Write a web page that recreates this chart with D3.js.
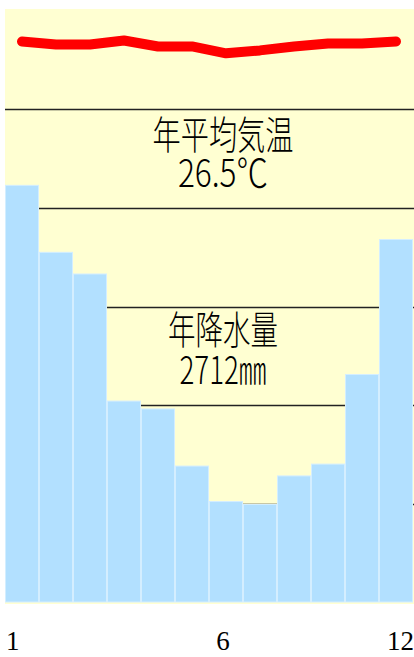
<!DOCTYPE html>
<html><head><meta charset="utf-8">
<script src="https://cdn.jsdelivr.net/npm/d3@7"></script>
<style>html,body{margin:0;padding:0;background:#fff;overflow:hidden;}svg{display:block;}</style>
</head><body>
<script>
const months = [1,2,3,4,5,6,7,8,9,10,11,12];
const precipitation = [423,355,333,204,196,138,102,99,128,140,231,368];
const temperature = [26.9,26.6,26.6,27.0,26.4,26.4,25.7,26.0,26.4,26.7,26.7,26.9];
const gridValues = [100,200,300,400,500];
const tickLabels = ["1","6","12"];
const titleLines = ["年平均気温","26.5℃","年降水量","2712㎜"];

const W = 414, H = 657;
const svg = d3.select("body").append("svg").attr("width", W).attr("height", H);

const x = d3.scaleBand().domain(months).range([5, 413]).padding(0);
const yP = d3.scaleLinear().domain([0, 600]).range([602, 11]);
const yT = d3.scaleLinear().domain([-30, 30]).range([602, 11]);

// background panel
svg.append("rect").attr("x", 5).attr("y", 9).attr("width", W - 5).attr("height", 595)
  .attr("fill", "#FFFFD2");

// grid lines
svg.append("g").selectAll("line").data(gridValues).join("line")
  .attr("x1", 5).attr("x2", W)
  .attr("y1", d => Math.round(yP(d)) + 0.5).attr("y2", d => Math.round(yP(d)) + 0.5)
  .attr("stroke", "#222").attr("stroke-width", 1.6);

// bars
svg.append("g").selectAll("rect").data(months).join("rect")
  .attr("x", d => x(d) + 0.5)
  .attr("y", (d, i) => yP(precipitation[i]))
  .attr("width", x.bandwidth() - 1)
  .attr("height", (d, i) => yP(0) - yP(precipitation[i]))
  .attr("fill", "#B2E0FF")
  .attr("stroke", "#D4EEFF").attr("stroke-width", 1);

// temperature line
const line = d3.line()
  .x((d, i) => x(months[i]) + x.bandwidth() / 2)
  .y(d => yT(d));
svg.append("path").datum(temperature)
  .attr("d", line)
  .attr("fill", "none").attr("stroke", "#FF0000")
  .attr("stroke-width", 10).attr("stroke-linecap", "round").attr("stroke-linejoin", "round");

// annotation text blocks (two lines each)
const cx = 223;
const blocks = [
  [{t: titleLines[0], y: 149, len: 141}, {t: titleLines[1], y: 187, len: 90}],
  [{t: titleLines[2], y: 344, len: 110}, {t: titleLines[3], y: 384, len: 87}]
];
svg.append("g").selectAll("text").data(blocks).join("text")
  .attr("font-family", "'Noto Sans CJK JP', sans-serif")
  .attr("font-size", 39).attr("font-weight", 300)
  .attr("fill", "#000")
  .selectAll("tspan").data(d => d).join("tspan")
  .attr("x", d => cx - d.len / 2).attr("y", d => d.y)
  .attr("textLength", d => d.len).attr("lengthAdjust", "spacingAndGlyphs")
  .text(d => d.t);

// month labels
const labelPos = [
  {t: tickLabels[0], x: 6, anchor: "start"},
  {t: tickLabels[1], x: 223, anchor: "middle"},
  {t: tickLabels[2], x: W, anchor: "end"}
];
svg.append("g").selectAll("text").data(labelPos).join("text")
  .attr("x", d => d.x).attr("y", 650)
  .attr("text-anchor", d => d.anchor)
  .attr("font-family", "'Liberation Serif', serif")
  .attr("font-size", 27).attr("fill", "#000")
  .text(d => d.t);
</script>
</body></html>
